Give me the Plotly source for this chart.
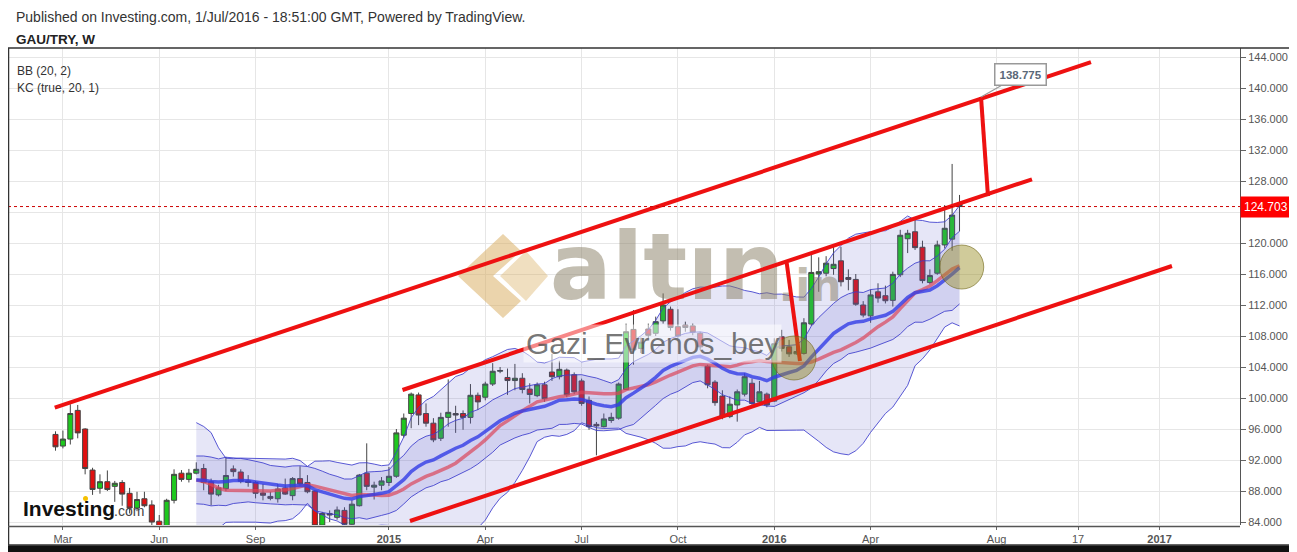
import numpy as np
import pandas as pd
import plotly.graph_objects as go

# ---------------- data (weekly GAU/TRY) ----------------
FIRST_WEEK = "2014-02-24"
opens = [95.3, 93.8, 94.7, 98.4, 96.0, 90.7, 88.35, 89.2, 88.6, 89.1,
         87.7, 85.8, 87.0, 86.2, 84.1, 83.3, 86.8, 90.3, 89.5, 90.3,
         90.9, 89.2, 87.5, 88.3, 90.85, 90.45, 89.3, 89.1, 87.75, 87.3,
         87.0, 88.4, 87.4, 89.6, 89.1, 88.0, 83.6, 85.1, 84.6, 85.5,
         83.7, 86.1, 90.3, 88.5, 88.75, 89.1, 89.9, 95.2, 98.0, 100.4,
         98.0, 96.75, 94.8, 97.5, 98.0, 98.0, 97.5, 100.35, 100.1, 101.8,
         103.45, 102.65, 102.25, 102.55, 101.15, 100.3, 101.7, 103.35, 102.75, 103.6,
         103.0, 102.2, 99.7, 96.6, 96.3, 97.1, 97.4, 101.1, 108.85, 106.4,
         108.9, 108.35, 109.95, 111.45, 109.2, 109.4, 109.3, 108.35, 104.1, 102.05,
         100.25, 97.6, 99.1, 100.5, 101.9, 99.5, 100.5, 99.6, 107.9, 106.6,
         105.7, 105.75, 109.55, 116.0, 116.1, 116.7, 117.7, 115.55, 115.3, 112.0,
         110.6, 113.7, 113.2, 112.6, 115.9, 120.55, 121.45, 119.45, 114.9, 116.1,
         119.75, 120.5, 125.1]
highs = [95.7, 95.8, 99.2, 99.1, 96.1, 91.0, 90.15, 90.65, 89.3, 89.4,
         88.4, 87.9, 87.9, 86.8, 84.9, 87.0, 90.8, 90.7, 90.85, 91.7,
         91.5, 89.6, 88.8, 92.4, 91.3, 90.8, 90.05, 89.3, 88.9, 87.9,
         88.9, 89.6, 89.8, 91.2, 90.05, 88.1, 85.3, 85.5, 86.0, 85.9,
         86.8, 90.2, 94.15, 89.2, 89.8, 91.1, 96.0, 98.0, 100.7, 100.7,
         99.3, 97.4, 98.1, 102.4, 99.0, 98.4, 101.8, 100.7, 102.1, 104.5,
         104.0, 103.8, 104.4, 103.2, 101.9, 102.0, 102.1, 105.7, 104.8, 103.8,
         103.3, 102.5, 100.2, 96.9, 98.0, 98.1, 102.0, 109.6, 111.35, 107.8,
         109.6, 110.5, 113.5, 111.8, 111.45, 109.85, 109.6, 108.55, 104.3, 102.3,
         101.0, 100.2, 101.1, 103.2, 102.5, 102.2, 100.7, 107.7, 108.8, 107.5,
         106.9, 110.3, 118.5, 118.15, 118.3, 119.5, 119.5, 116.6, 116.0, 112.5,
         114.0, 114.8, 114.5, 116.3, 121.7, 121.7, 123.2, 120.3, 116.6, 120.3,
         124.9, 130.2, 126.2]
lows = [93.2, 93.5, 94.0, 94.8, 90.15, 87.5, 87.65, 88.0, 86.6, 86.1,
        85.1, 85.4, 85.9, 83.6, 82.5, 82.8, 86.4, 89.2, 89.1, 90.15,
        88.1, 86.15, 87.3, 88.0, 89.85, 89.0, 88.55, 87.05, 86.8, 86.8,
        86.5, 87.5, 86.8, 88.65, 87.7, 83.0, 83.2, 84.0, 84.3, 83.3,
        83.5, 86.0, 88.1, 86.9, 88.1, 88.65, 89.7, 94.9, 96.1, 96.5,
        96.3, 94.3, 94.45, 96.3, 95.5, 95.9, 96.7, 98.45, 99.7, 101.55,
        103.2, 100.4, 101.0, 100.6, 99.3, 100.1, 99.5, 102.2, 102.4, 100.1,
        100.5, 99.0, 95.9, 92.6, 96.2, 96.8, 97.2, 101.0, 104.3, 105.8,
        107.7, 108.0, 109.6, 108.7, 107.8, 108.55, 108.1, 106.2, 101.25, 99.0,
        97.25, 97.4, 96.95, 100.2, 98.8, 99.2, 98.8, 99.5, 106.0, 105.3,
        105.6, 105.6, 109.3, 113.7, 115.7, 115.9, 114.4, 113.9, 111.9, 110.4,
        109.7, 112.3, 112.2, 111.8, 115.6, 118.7, 119.1, 114.8, 114.7, 115.9,
        119.3, 119.0, 121.5]
closes = [93.7, 94.7, 98.0, 95.5, 90.9, 88.2, 89.2, 88.2, 89.0, 87.6,
          85.8, 86.9, 86.1, 84.0, 83.3, 86.8, 90.15, 89.5, 90.3, 90.8,
          89.1, 87.6, 88.4, 90.0, 90.5, 89.25, 89.1, 87.7, 87.45, 87.05,
          88.25, 87.6, 89.6, 88.9, 87.9, 83.5, 85.1, 84.9, 85.55, 83.7,
          86.3, 90.05, 88.6, 88.75, 89.3, 89.9, 95.5, 97.4, 100.5, 97.8,
          96.75, 94.6, 97.5, 98.15, 97.8, 97.5, 100.35, 99.5, 101.8, 103.45,
          103.55, 102.25, 102.55, 101.1, 100.45, 101.7, 99.9, 102.75, 103.7, 100.4,
          100.8, 99.3, 96.3, 96.4, 97.3, 97.5, 101.8, 108.55, 106.2, 107.2,
          108.1, 109.85, 112.0, 109.1, 108.0, 109.1, 108.5, 106.6, 101.7, 99.4,
          97.6, 99.2, 100.8, 102.75, 99.3, 100.8, 99.1, 107.0, 106.4, 105.7,
          106.0, 109.7, 116.2, 116.3, 117.4, 117.25, 115.0, 115.3, 112.1, 110.7,
          113.3, 112.9, 112.55, 115.95, 121.0, 121.25, 119.4, 115.15, 115.8, 119.75,
          121.9, 123.6, 124.703]

tick_dates = ["2014-03-03", "2014-06-02", "2014-09-01", "2015-01-05", "2015-04-06",
              "2015-07-06", "2015-10-05", "2016-01-04", "2016-04-04", "2016-08-01",
              "2016-10-17", "2017-01-02"]
tick_labels = ["Mar", "Jun", "Sep", "<b>2015</b>", "Apr", "Jul", "Oct", "<b>2016</b>",
               "Apr", "Aug", "17", "<b>2017</b>"]
price_ticks = list(range(84, 145, 4))
last_price = 124.703
target_label = "138.775"

# user drawings: (week offset, price) pairs
channel_lines = [((-0.1, 98.77), (139.74, 143.35)),
                 ((46.83, 101.03), (131.78, 128.22)),
                 ((47.84, 84.13), (150.67, 117.03))]
measure_lines = [((124.9, 138.84), (125.84, 126.06)),
                 ((98.68, 117.42), (100.47, 104.77))]
circles = [(99.66, 105.16), (122.3, 116.9)]

weeks = pd.date_range(FIRST_WEEK, periods=len(closes), freq="7D")

# ---------------- indicators: BB(20,2), KC(true,20,1) ----------------
N = 20
cl = pd.Series(closes, dtype=float)
hi = pd.Series(highs, dtype=float)
lo = pd.Series(lows, dtype=float)
bb_mid = cl.rolling(N).mean()
bb_dev = cl.rolling(N).std(ddof=0)
bb_up = bb_mid + 2 * bb_dev
bb_lo = bb_mid - 2 * bb_dev


def ema(series, n):
    v = np.asarray(series, dtype=float)
    out = np.full(len(v), np.nan)
    a = 2.0 / (n + 1)
    out[n - 1] = v[:n].mean()
    for i in range(n, len(v)):
        out[i] = a * v[i] + (1 - a) * out[i - 1]
    return out


prev = cl.shift(1)
tr = pd.concat([hi - lo, (hi - prev).abs(), (lo - prev).abs()], axis=1).max(axis=1)
kc_mid = ema(cl, N)
kc_rng = ema(tr, N)
kc_up = kc_mid + kc_rng
kc_lo = kc_mid - kc_rng

# ---------------- geometry helpers (reference-pixel based; page has an 8px body margin) ----------------
OFF = 8
W, H = 1297 - OFF, 552 - OFF
PL, PR, PT, PB = 8, 1240, 48, 525          # plot box in page pixels
ML, MR, MT, MB = PL - OFF, W - (PR - OFF), PT - OFF, H - (PB - OFF)
PW, PH = PR - PL, PB - PT


def dx(x):  # page pixel -> week offset
    return (x - 55.5) / 7.41


def dy(y):  # page pixel -> price
    return 144 - (y - 57) / 7.75


X_LO, X_HI = dx(PL), dx(PR)
Y0, Y1 = dy(PB), dy(PT)


def wk(i):
    return (pd.Timestamp(FIRST_WEEK) + pd.Timedelta(days=7 * i)).strftime("%Y-%m-%d %H:%M:%S")


def px(x):  # page pixel -> paper x
    return (x - PL) / PW


def py(y):  # page pixel -> paper y
    return (PB - y) / PH


FONT = "Arial, Liberation Sans, sans-serif"
fig = go.Figure()

band_line = dict(color="rgba(60,60,205,0.85)", width=1)
fig.add_trace(go.Scatter(x=weeks, y=bb_lo, mode="lines", line=band_line, hoverinfo="skip"))
fig.add_trace(go.Scatter(x=weeks, y=bb_up, mode="lines", line=band_line, fill="tonexty",
                         fillcolor="rgba(100,100,205,0.16)", hoverinfo="skip"))
fig.add_trace(go.Scatter(x=weeks, y=kc_lo, mode="lines", line=band_line, hoverinfo="skip"))
fig.add_trace(go.Scatter(x=weeks, y=kc_up, mode="lines", line=band_line, fill="tonexty",
                         fillcolor="rgba(100,100,205,0.16)", hoverinfo="skip"))

# watermark logo (below candles)
chev_outer = [(458, 276), (503, 234), (521, 251), (493, 276), (521, 301), (503, 318), (458, 276)]
chev_inner = [(500, 276), (526, 251), (548, 276), (526, 301), (500, 276),
              None, (514, 276), (526, 264), (538, 276), (526, 288), (514, 276)]
for poly, alpha in ((chev_outer, 0.5), (chev_inner, 0.38)):
    xs = [wk(dx(p[0])) if p else None for p in poly]
    ys = [dy(p[1]) if p else None for p in poly]
    fig.add_trace(go.Scatter(x=xs, y=ys, mode="lines", fill="toself",
                             fillcolor=f"rgba(215,170,90,{alpha})", line=dict(width=0),
                             hoverinfo="skip"))
fig.add_trace(go.Scatter(x=[wk(dx(667))], y=[dy(276)], mode="text", text=["<b>altın</b>"],
                         textfont=dict(family="DejaVu Sans, sans-serif", size=92,
                                       color="rgba(135,125,100,0.5)"),
                         hoverinfo="skip"))
fig.add_trace(go.Scatter(x=[wk(dx(810))], y=[dy(290)], mode="text", text=["<b>.in</b>"],
                         textfont=dict(family="DejaVu Sans, sans-serif", size=44,
                                       color="rgba(135,125,100,0.5)"),
                         hoverinfo="skip"))

fig.add_trace(go.Scatter(x=weeks, y=bb_mid, mode="lines",
                         line=dict(color="rgba(220,70,90,0.7)", width=3.5), hoverinfo="skip"))
fig.add_trace(go.Scatter(x=weeks, y=kc_mid, mode="lines",
                         line=dict(color="rgba(50,60,230,0.8)", width=3.5), hoverinfo="skip"))

fig.add_trace(go.Candlestick(
    x=weeks, open=opens, high=highs, low=lows, close=closes,
    increasing=dict(fillcolor="#1ec81e", line=dict(color="#444444", width=1)),
    decreasing=dict(fillcolor="#e01010", line=dict(color="#444444", width=1)),
    whiskerwidth=0, hoverinfo="skip"))

shapes = []
for (a, b) in channel_lines + measure_lines:
    shapes.append(dict(type="line", xref="x", yref="y", x0=wk(a[0]), y0=a[1], x1=wk(b[0]), y1=b[1],
                       line=dict(color="#ee1111", width=4), layer="above"))
rx, ry = 22 / 7.41, 22 / 7.75
for (cx, cy) in circles:
    shapes.append(dict(type="circle", xref="x", yref="y", x0=wk(cx - rx), x1=wk(cx + rx),
                       y0=cy - ry, y1=cy + ry, fillcolor="rgba(150,140,30,0.45)",
                       line=dict(color="rgba(110,100,20,0.6)", width=1), layer="above"))
# last price dotted line
shapes.append(dict(type="line", xref="paper", yref="y", x0=0, x1=1, y0=last_price, y1=last_price,
                   line=dict(color="#cc0000", width=1, dash="dot"), layer="above"))
# frame
shapes.append(dict(type="rect", xref="paper", yref="paper", x0=px(8.5), x1=px(1290), y0=py(545), y1=py(48),
                   line=dict(color="#333333", width=1.5), layer="above"))
shapes.append(dict(type="line", xref="paper", yref="paper", x0=px(8), x1=px(1240), y0=py(526.5), y1=py(526.5),
                   line=dict(color="#555555", width=1.5), layer="above"))
shapes.append(dict(type="rect", xref="paper", yref="paper", x0=px(8), x1=px(1297), y0=py(552), y1=py(545.5),
                   line=dict(width=0), fillcolor="#111111", layer="above"))
shapes.append(dict(type="circle", xref="paper", yref="paper", x0=px(83), x1=px(88), y0=py(501), y1=py(496),
                   line=dict(width=0), fillcolor="#f5c000", layer="above"))

tip_x, tip_y = measure_lines[0][0]
annotations = [
    dict(text="Published on Investing.com, 1/Jul/2016 - 18:51:00 GMT, Powered by TradingView.",
         xref="paper", yref="paper", x=px(14), y=py(17), xanchor="left", yanchor="middle",
         showarrow=False, font=dict(family=FONT, size=14, color="#333333")),
    dict(text="<b>GAU/TRY, W</b>", xref="paper", yref="paper", x=px(14), y=py(40), xanchor="left",
         yanchor="middle", showarrow=False, font=dict(family=FONT, size=13.5, color="#222222")),
    dict(text="BB (20, 2)", xref="paper", yref="paper", x=px(15), y=py(71), xanchor="left",
         yanchor="middle", showarrow=False, font=dict(family=FONT, size=12, color="#333333")),
    dict(text="KC (true, 20, 1)", xref="paper", yref="paper", x=px(15), y=py(88), xanchor="left",
         yanchor="middle", showarrow=False, font=dict(family=FONT, size=12, color="#333333")),
    dict(text="Gazi_Evrenos_bey", xref="paper", yref="paper", x=px(652), y=py(344), xanchor="center",
         yanchor="middle", showarrow=False, bgcolor="rgba(255,255,255,0.5)", borderpad=2,
         font=dict(family=FONT, size=30, color="rgba(75,75,75,0.75)")),
    dict(text="<b>Investing</b>", xref="paper", yref="paper", x=px(21), y=py(508), xanchor="left",
         yanchor="middle", showarrow=False, font=dict(family=FONT, size=21, color="#111111")),
    dict(text=".com", xref="paper", yref="paper", x=px(112), y=py(511), xanchor="left",
         yanchor="middle", showarrow=False, font=dict(family=FONT, size=14, color="#444444")),
    dict(text=f"{last_price:.3f}", xref="paper", yref="y", x=px(1240), y=last_price, xanchor="left",
         yanchor="middle", showarrow=False, bgcolor="#ff0000", borderpad=3,
         font=dict(family=FONT, size=12, color="#ffffff")),
    dict(text=f"<b>{target_label}</b>", xref="x", yref="y", x=wk(tip_x), y=tip_y,
         showarrow=True, ax=39, ay=-22, arrowwidth=1.2, arrowhead=0,
         arrowcolor="#999999", standoff=0,
         bgcolor="#ffffff", bordercolor="#999999", borderwidth=1.5, borderpad=4,
         font=dict(family=FONT, size=11.5, color="#5a6878")),
]
# the red price marker hides the 124.000 label
price_text = ["" if abs(v - last_price) < 2 else f"{v:.3f}" for v in price_ticks]

fig.update_layout(
    width=W, height=H, margin=dict(l=ML, r=MR, t=MT, b=MB),
    paper_bgcolor="#ffffff", plot_bgcolor="#ffffff", showlegend=False,
    boxgap=0.2, boxgroupgap=0.15,
    shapes=shapes, annotations=annotations,
    xaxis=dict(type="date", range=[wk(X_LO), wk(X_HI)], rangeslider=dict(visible=False),
               tickvals=tick_dates, ticktext=tick_labels, showgrid=True, gridcolor="#e6e6e6",
               ticks="outside", ticklen=4, tickcolor="#666666", zeroline=False,
               tickfont=dict(family=FONT, size=11, color="#555555"), showline=False),
    yaxis=dict(side="right", range=[Y0, Y1], tickvals=price_ticks, ticktext=price_text,
               showgrid=True, gridcolor="#e6e6e6", ticks="outside", ticklen=5, tickcolor="#666666",
               tickfont=dict(family=FONT, size=11, color="#555555"), zeroline=False,
               showline=True, linecolor="#555555", linewidth=1),
)

fig.write_html("out.html")
